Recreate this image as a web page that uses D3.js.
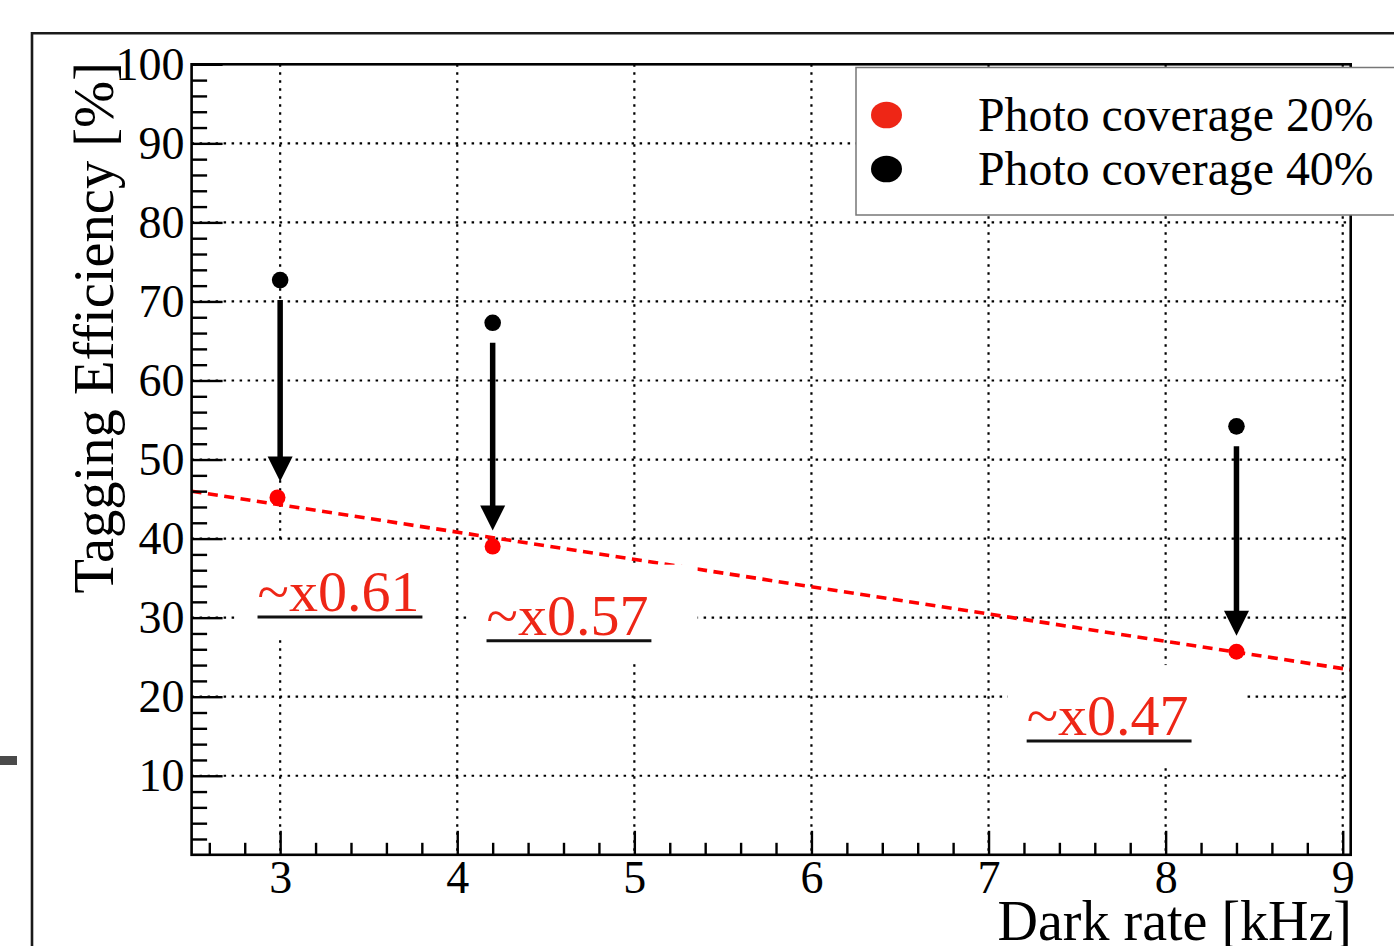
<!DOCTYPE html>
<html>
<head>
<meta charset="utf-8">
<script src="https://cdn.jsdelivr.net/npm/d3@7"></script>
<style>
  html, body { margin: 0; padding: 0; background: #fff; }
  svg { display: block; font-family: "Liberation Serif", "Times New Roman", serif; }
</style>
</head>
<body>
<svg id="chart"></svg>
<script>
// values
const darkRate20 = [2.985, 4.2, 8.4];        // kHz, photo coverage 20%
const eff20 = [45.2, 39.0, 25.7];            // %
const darkRate40 = [3.0, 4.2, 8.4];          // kHz, photo coverage 40%
const eff40 = [72.7, 67.3, 54.2];            // %
const fitX = [2.5, 9.045];                   // straight fit through the 20% points
const fitY = [46.0, 23.4];
const ratioTexts = ['~x0.61', '~x0.57', '~x0.47'];
// white boxes behind the ratio texts, in axis units [x0, x1, yTop, yBottom]
const ratioBoxes = [
  [2.765, 3.979, 39.7, 27.8],
  [4.058, 5.357, 36.7, 24.3],
  [7.108, 8.44, 24.0, 11.6]
];
const xTicks = [3, 4, 5, 6, 7, 8, 9];
const yTicks = [10, 20, 30, 40, 50, 60, 70, 80, 90, 100];
const legendLabels = ['Photo coverage 20%', 'Photo coverage 40%'];

const width = 1394;
const height = 946;
const frame = { left: 191.6, right: 1350.7, top: 64.3, bottom: 854.8 };
const red = '#ff0000';
const labelRed = '#ee2616';

const svg = d3.select('#chart')
  .attr('width', width)
  .attr('height', height);

const x = d3.scaleLinear().domain([2.5, 9.045]).range([frame.left, frame.right]);
const y = d3.scaleLinear().domain([0, 100]).range([frame.bottom, frame.top]);

// canvas pieces around the pad
svg.append('rect').attr('x', 0).attr('y', 756).attr('width', 17).attr('height', 9).attr('fill', '#4a4a4a');
svg.append('path')
  .attr('d', `M32,${height + 5}V33.3H${width + 5}`)
  .attr('fill', 'none')
  .attr('stroke', '#1a1a1a')
  .attr('stroke-width', 2.6);

// dotted grid
const grid = svg.append('g')
  .attr('stroke', '#000')
  .attr('stroke-width', 2.2)
  .attr('stroke-dasharray', '2.5,5.5');

grid.selectAll('.gx')
  .data(xTicks)
  .enter().append('line')
    .attr('x1', d => x(d)).attr('x2', d => x(d))
    .attr('y1', frame.top).attr('y2', frame.bottom);

grid.selectAll('.gy')
  .data(yTicks.filter(d => d < 100))
  .enter().append('line')
    .attr('x1', frame.left).attr('x2', frame.right)
    .attr('y1', d => y(d)).attr('y2', d => y(d));

// fit line
svg.append('line')
  .attr('x1', x(fitX[0])).attr('y1', y(fitY[0]))
  .attr('x2', x(fitX[1])).attr('y2', y(fitY[1]))
  .attr('stroke', red)
  .attr('stroke-width', 3.6)
  .attr('stroke-dasharray', '10,6.5');

// ratio labels
const labels = svg.selectAll('.ratio')
  .data(ratioTexts.map((t, i) => ({ text: t, box: ratioBoxes[i] })))
  .enter().append('g')
    .attr('class', 'ratio');

labels.append('rect')
  .attr('x', d => x(d.box[0]))
  .attr('y', d => y(d.box[2]))
  .attr('width', d => x(d.box[1]) - x(d.box[0]))
  .attr('height', d => y(d.box[3]) - y(d.box[2]))
  .attr('fill', '#fff');

labels.append('text')
  .attr('x', d => x(d.box[0]) + 19)
  .attr('y', d => y(d.box[2]) + 70)
  .attr('font-size', 58)
  .attr('fill', labelRed)
  .text(d => d.text);

labels.each(function () {
  const g = d3.select(this);
  const t = g.select('text');
  const bb = t.node().getBBox();
  g.append('line')
    .attr('x1', bb.x).attr('x2', bb.x + bb.width + 3)
    .attr('y1', +t.attr('y') + 6).attr('y2', +t.attr('y') + 6)
    .attr('stroke', '#111')
    .attr('stroke-width', 3);
});

// arrows from 40% down to 20%
const arrows = svg.selectAll('.arrow')
  .data(darkRate40.map((d, i) => ({ x: d, from: eff40[i], to: eff20[i] })))
  .enter().append('g')
    .attr('class', 'arrow');

arrows.append('line')
  .attr('x1', d => x(d.x)).attr('x2', d => x(d.x))
  .attr('y1', d => y(d.from) + 20)
  .attr('y2', d => y(d.to) - 35)
  .attr('stroke', '#000')
  .attr('stroke-width', 5.5);

arrows.append('path')
  .attr('d', d => {
    const tip = y(d.to) - 16;
    const cx = x(d.x);
    return `M${cx - 12.5},${tip - 25}L${cx + 12.5},${tip - 25}L${cx},${tip}Z`;
  })
  .attr('fill', '#000');

// points
svg.selectAll('.p40')
  .data(darkRate40)
  .enter().append('circle')
    .attr('cx', d => x(d))
    .attr('cy', (d, i) => y(eff40[i]))
    .attr('r', 8.3)
    .attr('fill', '#000');

svg.selectAll('.p20')
  .data(darkRate20)
  .enter().append('circle')
    .attr('cx', d => x(d))
    .attr('cy', (d, i) => y(eff20[i]))
    .attr('r', 8)
    .attr('fill', red);

// axes, ticks inside the frame
svg.append('g')
  .attr('transform', `translate(${frame.left},0)`)
  .call(d3.axisLeft(y).tickValues(yTicks).tickSize(-31).tickSizeOuter(0).tickPadding(7));

svg.append('g')
  .attr('transform', `translate(${frame.left},0)`)
  .call(d3.axisLeft(y).tickValues(d3.range(2, 100, 2).filter(d => d % 10)).tickSize(-15.5).tickSizeOuter(0).tickFormat(''));

svg.append('g')
  .attr('transform', `translate(0,${frame.bottom})`)
  .call(d3.axisBottom(x).tickValues(xTicks).tickSize(-24).tickSizeOuter(0).tickPadding(6).tickFormat(d3.format('d')));

svg.append('g')
  .attr('transform', `translate(0,${frame.bottom})`)
  .call(d3.axisBottom(x).tickValues(d3.range(2.6, 9.01, 0.2).filter(d => Math.abs(d - Math.round(d)) > 0.01)).tickSize(-12).tickSizeOuter(0).tickFormat(''));

svg.selectAll('.domain').remove();
svg.selectAll('.tick line').attr('stroke', '#000').attr('stroke-width', 2.4);
svg.selectAll('.tick text')
  .attr('font-family', '"Liberation Serif", "Times New Roman", serif')
  .attr('font-size', 46)
  .attr('fill', '#000');

// frame
svg.append('rect')
  .attr('x', frame.left).attr('y', frame.top)
  .attr('width', frame.right - frame.left)
  .attr('height', frame.bottom - frame.top)
  .attr('fill', 'none')
  .attr('stroke', '#000')
  .attr('stroke-width', 2.6);

// axis titles
svg.append('text')
  .attr('x', 1352).attr('y', 940)
  .attr('text-anchor', 'end')
  .attr('font-size', 56)
  .text('Dark rate [kHz]');

svg.append('text')
  .attr('transform', 'translate(113,62) rotate(-90)')
  .attr('text-anchor', 'end')
  .attr('font-size', 56.5)
  .text('Tagging Efficiency [%]');

// legend
const legend = svg.append('g');
legend.append('rect')
  .attr('x', 856).attr('y', 67.5)
  .attr('width', 560).attr('height', 147.5)
  .attr('fill', '#fff')
  .attr('stroke', '#777')
  .attr('stroke-width', 1.5);

const legendColors = [labelRed, '#000'];
const rows = legend.selectAll('.row')
  .data(legendLabels)
  .enter().append('g')
    .attr('transform', (d, i) => `translate(0,${115 + i * 54})`);

rows.append('ellipse')
  .attr('cx', 886.5).attr('cy', 0)
  .attr('rx', 15.5).attr('ry', 13.3)
  .attr('fill', (d, i) => legendColors[i]);

rows.append('text')
  .attr('x', 978).attr('y', 16)
  .attr('font-size', 47.8)
  .text(d => d);
</script>
</body>
</html>
